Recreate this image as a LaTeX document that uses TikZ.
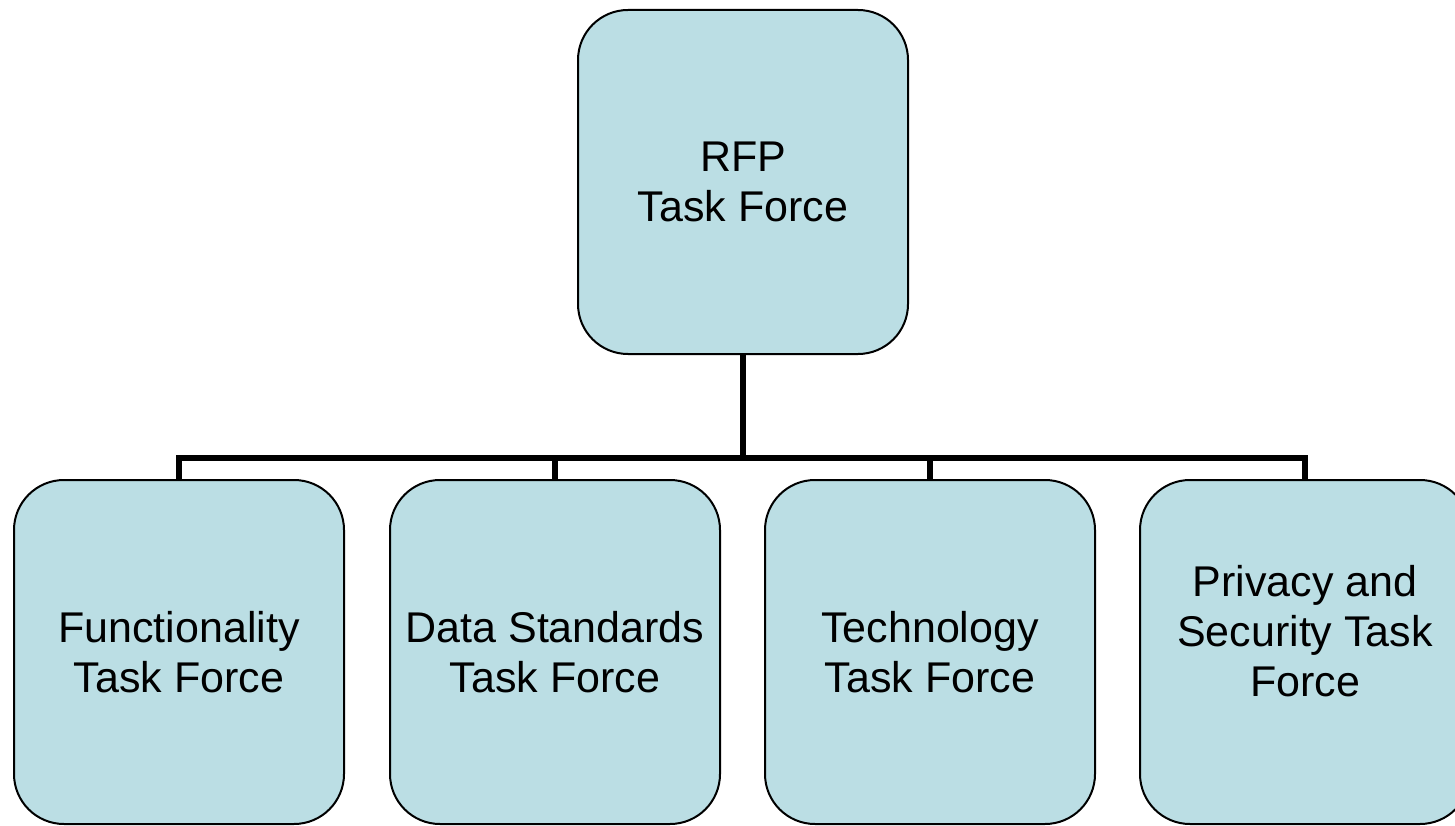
\documentclass[tikz,border=0pt]{standalone}
\usepackage{fontspec}
\setmainfont{Liberation Sans}
\definecolor{boxfill}{HTML}{BBDEE4}
\begin{document}
\begin{tikzpicture}[x=1pt,y=-1pt,
  tfbox/.style={draw=black, line width=2pt, fill=boxfill, rounded corners=50pt,
    minimum width=330pt, minimum height=344pt, inner sep=0pt, align=center,
    font=\fontsize{43}{50}\selectfont},
  tftext/.style={align=center, inner sep=0pt, font=\fontsize{43}{50}\selectfont},
  conn/.style={line width=6pt, draw=black}]
\useasboundingbox (0,0) rectangle (1455,826);
\node[tfbox] (rfp) at (743,182) {RFP\\Task Force};
\node[tfbox] (func) at (179,652) {Functionality\\Task Force};
\node[tfbox] (data) at (555,652) {Data Standards\\Task Force};
\node[tfbox] (tech) at (930,652) {Technology\\Task Force};
\node[tfbox] (priv) at (1305,652) {};
\node[tftext] (privtext) at (1305,631) {Privacy and\\Security Task\\Force};
\coordinate (bus) at (743,458);
\draw[conn] (rfp.south) -- (bus);
\draw[conn] (func.north) |- (bus);
\draw[conn] (priv.north) |- (bus);
\draw[conn] (data.north) -- (data.north |- bus);
\draw[conn] (tech.north) -- (tech.north |- bus);
\end{tikzpicture}
\end{document}
